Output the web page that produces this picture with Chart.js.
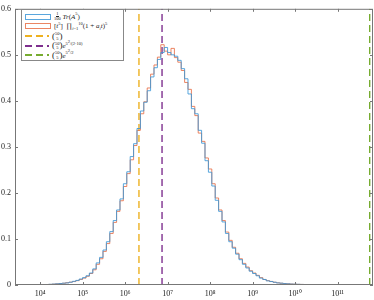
<!DOCTYPE html>
<html>
<head>
<meta charset="utf-8">
<script src="https://cdn.jsdelivr.net/npm/chart.js@4/dist/chart.umd.min.js"></script>
<style>
  body { margin: 0; background: #fff; }
  #wrap { position: relative; width: 374px; height: 300px; }
  #legend {
    position: absolute; left: 21px; top: 9px; width: 103px; height: 52px;
    border: 1px solid #888; background: #fff; box-sizing: border-box;
    font-family: 'Liberation Serif', 'DejaVu Serif', serif; font-size: 7px; color: #222;
  }
  .row { position: absolute; left: 0; height: 9px; display: flex; align-items: center; white-space: nowrap; }
  .swatch { width: 24px; margin-left: 3px; margin-right: 3px; flex: none; }
  .rect { height: 4px; border: 1px solid; }
  .frac, .binom { display: inline-flex; flex-direction: column; align-items: center; font-size: 4.5px; line-height: 4.5px; vertical-align: middle; }
  .frac span:first-child { border-bottom: 0.5px solid #222; }
  .par { font-size: 9px; }
  sup, sub { font-size: 4.5px; line-height: 0; }
</style>
</head>
<body>
<div id="wrap">
  <canvas id="chart1" width="374" height="300"></canvas>
  <div id="legend"></div>
</div>
<script>
// histogram bins: log10 start and width of each bin
const binStartExp = 3.8;
const binWidthExp = 0.08;

// 1/100 Tr(A^5)
const traceValues = [
  0, 0.0003, 0.0005, 0.0007, 0.0008, 0.001, 0.0015, 0.002, 0.0025, 0.003,
  0.004, 0.0045, 0.006, 0.008, 0.010, 0.013, 0.016, 0.020, 0.026, 0.035,
  0.048, 0.060, 0.076, 0.094, 0.116, 0.140, 0.163, 0.187, 0.220, 0.246,
  0.279, 0.307, 0.340, 0.378, 0.397, 0.422, 0.452, 0.472, 0.490, 0.505,
  0.516, 0.505, 0.500, 0.497, 0.488, 0.470, 0.448, 0.415, 0.383, 0.372,
  0.336, 0.308, 0.270, 0.245, 0.215, 0.184, 0.160, 0.137, 0.112, 0.094,
  0.080, 0.067, 0.055, 0.045, 0.037, 0.030, 0.025, 0.020, 0.015, 0.012,
  0.009, 0.0075, 0.006, 0.0045, 0.004, 0.003, 0.0025, 0.002, 0.0018, 0.0015,
  0.0012, 0.001, 0.0008, 0.0006, 0.0005, 0.0004, 0.0003, 0.0003, 0.0002, 0.0002,
  0.0001, 0.0001
];

// [t^5] prod (1 + a_i t)^5
const coeffValues = [
  0.0002, 0.0003, 0.0004, 0.0006, 0.0009, 0.001, 0.0013, 0.0018, 0.0026, 0.0032,
  0.0038, 0.005, 0.0062, 0.0075, 0.0095, 0.012, 0.015, 0.019, 0.025, 0.033,
  0.045, 0.057, 0.073, 0.090, 0.112, 0.136, 0.160, 0.183, 0.214, 0.242,
  0.272, 0.303, 0.336, 0.372, 0.398, 0.428, 0.458, 0.478, 0.495, 0.522,
  0.508, 0.500, 0.514, 0.494, 0.484, 0.466, 0.440, 0.425, 0.388, 0.368,
  0.330, 0.312, 0.276, 0.252, 0.220, 0.189, 0.163, 0.140, 0.115, 0.097,
  0.082, 0.069, 0.057, 0.047, 0.039, 0.031, 0.026, 0.021, 0.016, 0.012,
  0.0095, 0.0078, 0.006, 0.0048, 0.0038, 0.0032, 0.0026, 0.0021, 0.0017, 0.0014,
  0.0012, 0.001, 0.0009, 0.0007, 0.0006, 0.0005, 0.0004, 0.0004, 0.0003, 0.0003,
  0.0002, 0.0002, 0.0001, 0.0001, 0.0001
];

// reference lines: C(50,5), C(50,5) e^{5^2/(2*10)}, C(50,5) e^{5^2/2}
const refValues = [2118760, 7.4e6, 5.68e11];
const refColors = ['#EDB120', '#7E2F8E', '#77AC30'];

const xTickValues = [1e4, 1e5, 1e6, 1e7, 1e8, 1e9, 1e10, 1e11];
const yTickValues = [0, 0.1, 0.2, 0.3, 0.4, 0.5, 0.6];

const blue = 'rgba(60,150,215,0.85)';
const orange = 'rgba(232,112,72,0.85)';

function stepPoints(values) {
    const pts = [{ x: Math.pow(10, binStartExp), y: 0 }];
    values.forEach((v, i) => pts.push({ x: Math.pow(10, binStartExp + i * binWidthExp), y: v }));
    pts.push({ x: Math.pow(10, binStartExp + values.length * binWidthExp), y: 0 });
    return pts;
}

const sup = { '0': '⁰', '1': '¹', '2': '²', '3': '³', '4': '⁴', '5': '⁵', '6': '⁶', '7': '⁷', '8': '⁸', '9': '⁹' };

// box with inward ticks on all four sides
const boxPlugin = {
    id: 'box',
    afterDraw(chart) {
        const { ctx, chartArea: a, scales } = chart;
        ctx.save();
        ctx.strokeStyle = '#777';
        ctx.lineWidth = 1;
        ctx.strokeRect(a.left + 0.5, a.top + 0.5, a.right - a.left - 1, a.bottom - a.top - 1);
        ctx.beginPath();
        xTickValues.forEach(v => {
            const px = Math.round(scales.x.getPixelForValue(v)) + 0.5;
            ctx.moveTo(px, a.bottom); ctx.lineTo(px, a.bottom - 3);
            ctx.moveTo(px, a.top); ctx.lineTo(px, a.top + 3);
        });
        yTickValues.forEach(v => {
            const py = Math.round(scales.y.getPixelForValue(v)) + 0.5;
            ctx.moveTo(a.left, py); ctx.lineTo(a.left + 3, py);
            ctx.moveTo(a.right, py); ctx.lineTo(a.right - 3, py);
        });
        ctx.stroke();
        ctx.restore();
    }
};

const refDatasets = refValues.map((v, i) => ({
    data: [{ x: v, y: 0 }, { x: v, y: 0.6 }],
    borderColor: refColors[i],
    borderWidth: 1.4,
    borderDash: [7, 4],
    pointRadius: 0
}));

new Chart(document.getElementById('chart1'), {
    type: 'line',
    data: {
        datasets: [
            { data: stepPoints(traceValues), borderColor: blue, borderWidth: 1, stepped: 'after', pointRadius: 0 },
            { data: stepPoints(coeffValues), borderColor: orange, borderWidth: 1, stepped: 'after', pointRadius: 0 },
            ...refDatasets
        ]
    },
    options: {
        responsive: false,
        animation: false,
        layout: { padding: { top: 2, right: 1 } },
        plugins: { legend: { display: false }, tooltip: { enabled: false } },
        scales: {
            x: {
                type: 'logarithmic',
                min: 2570,
                max: 6.8e11,
                grid: { display: false, drawTicks: false },
                border: { display: false },
                afterBuildTicks: s => { s.ticks = xTickValues.map(v => ({ value: v })); },
                afterFit: s => { s.height = 15; },
                ticks: {
                    autoSkip: false,
                    maxRotation: 0,
                    padding: 4,
                    color: '#222',
                    font: { family: 'Liberation Serif', size: 8 },
                    callback: v => '10' + String(Math.round(Math.log10(v))).split('').map(c => sup[c]).join('')
                }
            },
            y: {
                min: 0,
                max: 0.6,
                grid: { display: false, drawTicks: false },
                border: { display: false },
                afterBuildTicks: s => { s.ticks = yTickValues.map(v => ({ value: v })); },
                afterFit: s => { s.width = 15; },
                ticks: {
                    padding: 4,
                    color: '#222',
                    font: { family: 'Liberation Serif', size: 8 },
                    callback: v => String(v)
                }
            }
        }
    },
    plugins: [boxPlugin]
});

// legend with math labels
const binom = '<span class="par">(</span><span class="binom"><span>50</span><span>5</span></span><span class="par">)</span>';
const legendRows = [
    { kind: 'rect', color: blue, html: '<span class="frac"><span>1</span><span>100</span></span>&nbsp;<i>Tr</i>(<i>A</i><sup>5</sup>)' },
    { kind: 'rect', color: orange, html: '[<i>t</i><sup>5</sup>]&nbsp; ∏<sub><i>i</i>=1</sub><sup>10</sup>(1 + <i>a<sub>i</sub>t</i>)<sup>5</sup>' },
    { kind: 'dash', color: refColors[0], html: binom },
    { kind: 'dash', color: refColors[1], html: binom + '<i>e</i><sup>5<sup>2</sup>/(2·10)</sup>' },
    { kind: 'dash', color: refColors[2], html: binom + '<i>e</i><sup>5<sup>2</sup>/2</sup>' }
];
const legendTops = [2, 11.5, 21.5, 31, 40.5];
const legend = document.getElementById('legend');
legendRows.forEach((r, i) => {
    const row = document.createElement('div');
    row.className = 'row';
    row.style.top = legendTops[i] + 'px';
    const sw = r.kind === 'rect'
        ? '<div class="swatch rect" style="border-color:' + r.color + '"></div>'
        : '<div class="swatch" style="height:2px;background:repeating-linear-gradient(to right,' + r.color + ' 0 7px,transparent 7px 11px)"></div>';
    row.innerHTML = sw + '<span>' + r.html + '</span>';
    legend.appendChild(row);
});
</script>
</body>
</html>
